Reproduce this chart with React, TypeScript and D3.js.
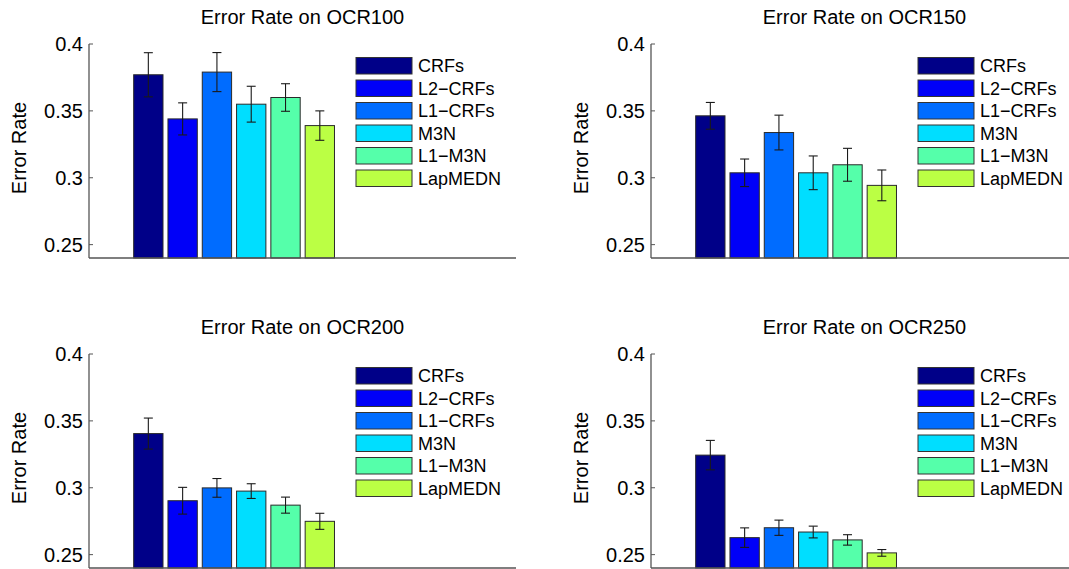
import * as d3 from 'd3';
import { useEffect, useRef } from 'react';

const methods = ['CRFs', 'L2\u2212CRFs', 'L1\u2212CRFs', 'M3N', 'L1\u2212M3N', 'LapMEDN'];
const colors = ['#000088', '#0000f8', '#006cff', '#00deff', '#55ffaa', '#bbff44'];
const datasets = ['OCR100', 'OCR150', 'OCR200', 'OCR250'];

const ocr100 = [0.377, 0.344, 0.379, 0.355, 0.360, 0.339];
const err100 = [0.0165, 0.012, 0.0146, 0.0134, 0.0103, 0.011];
const ocr150 = [0.3463, 0.3037, 0.3338, 0.3037, 0.3097, 0.2943];
const err150 = [0.010, 0.0103, 0.013, 0.0126, 0.0123, 0.0115];
const ocr200 = [0.3405, 0.2903, 0.2999, 0.2975, 0.287, 0.2749];
const err200 = [0.0116, 0.010, 0.007, 0.0055, 0.006, 0.006];
const ocr250 = [0.3244, 0.2627, 0.2701, 0.2669, 0.261, 0.2513];
const err250 = [0.011, 0.0073, 0.0057, 0.0044, 0.0039, 0.0025];

const yTicks = [0.25, 0.3, 0.35, 0.4];
const yTickLabels = ['0.25', '0.3', '0.35', '0.4'];

const panelValues = [ocr100, ocr150, ocr200, ocr250];
const panelErrors = [err100, err150, err200, err250];

const FONT = '"Liberation Sans", Arial, Helvetica, sans-serif';

export default function App() {
  const svgRef = useRef<SVGSVGElement | null>(null);

  useEffect(() => {
    if (!svgRef.current) return;
    const width = 1069;
    const height = 569;
    const svg = d3.select(svgRef.current)
      .html('')
      .attr('width', width)
      .attr('height', height);

    // axes box of one subplot, MATLAB-like
    const axW = 427;
    const axH = 214;
    const origins = [[89, 44], [651, 44], [89, 354], [651, 354]];

    datasets.forEach((name, p) => {
      const [ox, oy] = origins[p];
      const g = svg.append('g').attr('transform', `translate(${ox},${oy})`);

      const yScale = d3.scaleLinear().domain([0.24, 0.4]).range([axH, 0]);
      // one bar group centred at x = 1, group width 0.8
      const xScale = d3.scaleLinear().domain([0.436, 2.096]).range([0, axW]);
      const slot = 0.8 / methods.length;
      const barW = xScale(slot * 0.855) - xScale(0);
      const cx = (i: number) => xScale(1 - 0.4 + slot * (i + 0.5));

      const vals = panelValues[p];
      const errs = panelErrors[p];

      // bars
      g.selectAll('rect.bar')
        .data(vals)
        .enter().append('rect')
        .attr('class', 'bar')
        .attr('x', (d, i) => cx(i) - barW / 2)
        .attr('y', d => yScale(d))
        .attr('width', barW)
        .attr('height', d => yScale(0.24) - yScale(d))
        .attr('fill', (d, i) => colors[i])
        .attr('stroke', '#2a2a2a')
        .attr('stroke-width', 1);

      // error bars
      const eb = g.selectAll('g.err')
        .data(vals)
        .enter().append('g')
        .attr('class', 'err')
        .attr('stroke', '#1a1a1a')
        .attr('stroke-width', 1.1);
      eb.append('line')
        .attr('x1', (d, i) => cx(i)).attr('x2', (d, i) => cx(i))
        .attr('y1', (d, i) => yScale(d + errs[i]))
        .attr('y2', (d, i) => yScale(d - errs[i]));
      eb.append('line')
        .attr('x1', (d, i) => cx(i) - 4.5).attr('x2', (d, i) => cx(i) + 4.5)
        .attr('y1', (d, i) => yScale(d + errs[i]))
        .attr('y2', (d, i) => yScale(d + errs[i]));
      eb.append('line')
        .attr('x1', (d, i) => cx(i) - 4.5).attr('x2', (d, i) => cx(i) + 4.5)
        .attr('y1', (d, i) => yScale(d - errs[i]))
        .attr('y2', (d, i) => yScale(d - errs[i]));

      // axes lines
      g.append('line')
        .attr('x1', 0).attr('x2', 0)
        .attr('y1', 0).attr('y2', axH)
        .attr('stroke', '#555').attr('stroke-width', 1.3);
      g.append('line')
        .attr('x1', 0).attr('x2', axW)
        .attr('y1', axH).attr('y2', axH)
        .attr('stroke', '#555').attr('stroke-width', 1.3);

      // y ticks (inside) and labels
      yTicks.forEach((t, k) => {
        g.append('line')
          .attr('x1', 0).attr('x2', 4)
          .attr('y1', yScale(t)).attr('y2', yScale(t))
          .attr('stroke', '#555');
        g.append('text')
          .attr('x', -6)
          .attr('y', yScale(t))
          .attr('dy', '0.36em')
          .attr('text-anchor', 'end')
          .attr('fill', '#000')
          .style('font-family', FONT)
          .style('font-size', '20px')
          .text(yTickLabels[k]);
      });

      // y label
      g.append('text')
        .attr('transform', 'rotate(-90)')
        .attr('x', -axH / 2 + 3)
        .attr('y', -63)
        .attr('text-anchor', 'middle')
        .attr('fill', '#000')
        .style('font-family', FONT)
        .style('font-size', '20px')
        .text('Error Rate');

      // title
      g.append('text')
        .attr('x', axW / 2)
        .attr('y', -20)
        .attr('text-anchor', 'middle')
        .attr('fill', '#000')
        .style('font-family', FONT)
        .style('font-size', '20px')
        .text(`Error Rate on ${name}`);

      // legend
      const legend = g.append('g').attr('transform', `translate(267, 13.5)`);
      methods.forEach((m, i) => {
        legend.append('rect')
          .attr('x', 0)
          .attr('y', i * 22.5)
          .attr('width', 56)
          .attr('height', 16.5)
          .attr('fill', colors[i])
          .attr('stroke', '#333')
          .attr('stroke-width', 1);
        legend.append('text')
          .attr('x', 62)
          .attr('y', i * 22.5 + 8.25)
          .attr('dy', '0.36em')
          .attr('fill', '#000')
          .style('font-family', FONT)
          .style('font-size', '18px')
          .text(m);
      });
    });
  }, []);

  return (
    <>
      <style>{'body{margin:0;background:#fff}'}</style>
      <svg ref={svgRef} style={{ display: 'block' }} />
    </>
  );
}
